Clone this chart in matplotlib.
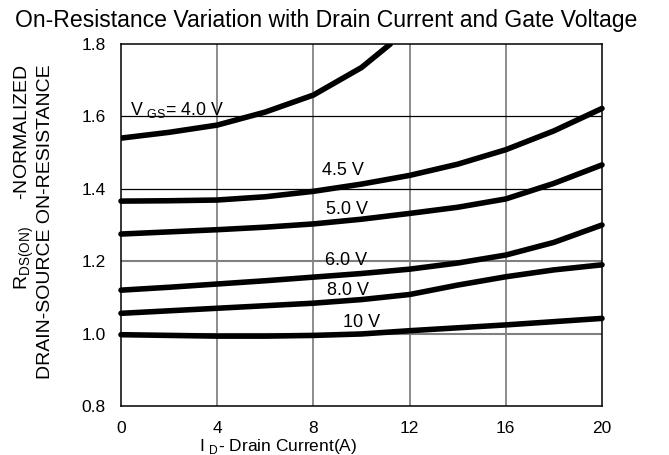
import numpy as np
import matplotlib
matplotlib.use("Agg")
import matplotlib.pyplot as plt

plt.rcParams['font.family'] = ['Liberation Sans', 'DejaVu Sans']
plt.rcParams['mathtext.fontset'] = 'custom'
plt.rcParams['mathtext.rm'] = 'Liberation Sans'

# Normalized R_DS(on) vs drain current, one curve per gate voltage
id_4v0 = [0, 2, 4, 6, 8, 9, 10, 11.2]
r_4v0 = [1.540, 1.556, 1.576, 1.612, 1.659, 1.697, 1.735, 1.80]

id_all = [0, 2, 4, 6, 8, 10, 12, 14, 16, 18, 20]
r_4v5 = [1.366, 1.367, 1.369, 1.378, 1.393, 1.413, 1.437, 1.468, 1.508, 1.560, 1.622]
r_5v0 = [1.275, 1.281, 1.287, 1.294, 1.303, 1.316, 1.332, 1.349, 1.372, 1.415, 1.466]
r_6v0 = [1.120, 1.128, 1.137, 1.146, 1.156, 1.166, 1.178, 1.195, 1.217, 1.252, 1.300]
r_8v0 = [1.056, 1.063, 1.070, 1.077, 1.084, 1.094, 1.108, 1.134, 1.157, 1.176, 1.190]
r_10v = [0.997, 0.995, 0.993, 0.993, 0.995, 0.999, 1.008, 1.016, 1.024, 1.033, 1.042]

labels = ["4.5 V", "5.0 V", "6.0 V", "8.0 V", "10 V"]
label_x = [9.23, 9.4, 9.35, 9.44, 10.0]
label_y = [1.450, 1.344, 1.203, 1.120, 1.032]

x_ticks = [0, 4, 8, 12, 16, 20]
y_ticks = [0.8, 1.0, 1.2, 1.4, 1.6, 1.8]

fig = plt.figure(figsize=(6.69, 4.55), dpi=100)
ax = fig.add_axes([121/669, 49/455, 481/669, 362/455])

# grid
for xv in x_ticks[1:-1]:
    ax.axvline(xv, color='#6e6e6e', lw=1.1, zorder=1)
for yv in [1.4, 1.6]:
    ax.axhline(yv, color='black', lw=0.9, zorder=1)
for yv in [1.0, 1.2]:
    ax.axhline(yv, color='#808080', lw=1.5, zorder=1)

lw = 4.0
ax.plot(id_4v0, r_4v0, color='black', lw=lw, solid_capstyle='round', zorder=3)
for r in [r_4v5, r_5v0, r_6v0, r_8v0, r_10v]:
    ax.plot(id_all, r, color='black', lw=lw, solid_capstyle='round', zorder=3, clip_on=False)

ax.text(0.37, 1.618, r"V $_{\mathrm{GS}}$= 4.0 V", fontsize=12.8, ha='left', va='center')
for t, xx, yy in zip(labels, label_x, label_y):
    ax.text(xx, yy, t, fontsize=13, ha='center', va='center')

ax.set_xlim(0, 20)
ax.set_ylim(0.8, 1.8)
ax.set_xticks(x_ticks)
ax.set_yticks(y_ticks)
ax.set_yticklabels(["%.1f" % v for v in y_ticks])
ax.tick_params(length=0, labelsize=12.5, pad=11)
for s in ax.spines.values():
    s.set_linewidth(1.1)

fig.text(326/669, 1 - 20/455, "On-Resistance Variation with Drain Current and Gate Voltage",
         fontsize=16.6, ha='center', va='center')
fig.text(199/669, 1 - 447/455, r"I $_{\mathrm{D}}$- Drain Current(A)", fontsize=12.5,
         ha='left', va='center')
fig.text(24/669, 1 - 64/455, r"R$_{\mathrm{DS(ON)}}$     -NORMALIZED", fontsize=14,
         rotation=90, ha='center', va='top')
fig.text(46/669, 1 - 64/455, "DRAIN-SOURCE ON-RESISTANCE", fontsize=14,
         rotation=90, ha='center', va='top')

fig.savefig("out.png", dpi=100)
